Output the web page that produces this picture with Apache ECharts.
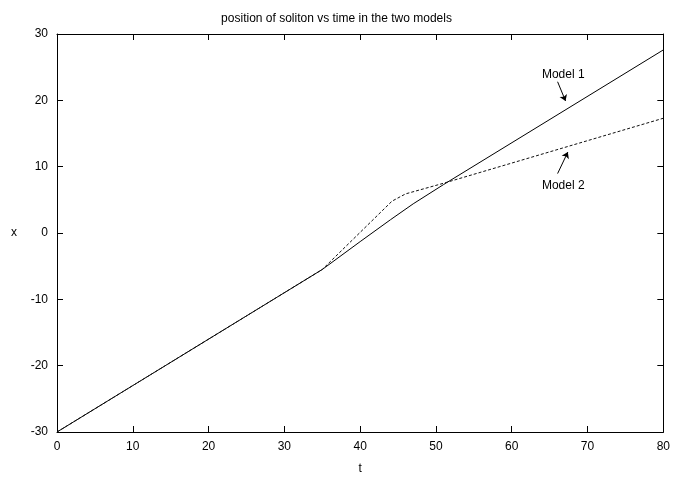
<!DOCTYPE html>
<html>
<head>
<meta charset="utf-8">
<script src="https://cdn.jsdelivr.net/npm/echarts@6/dist/echarts.min.js"></script>
<style>
  html, body { margin: 0; padding: 0; background: #fff; }
  #chart { width: 673px; height: 480px; }
</style>
</head>
<body>
<div id="chart"></div>
<script>
// position of the soliton
const model1T = [0, 35, 40, 44, 47, 51, 80]
const model1X = [-30, -5.5, -1.3, 2.0, 4.4, 7.3, 27.6]
const model2T = [0, 35, 44.2, 46, 51, 80]
const model2X = [-30, -5.5, 4.8, 5.9, 7.5, 17.3]

const xTicks = [0, 10, 20, 30, 40, 50, 60, 70, 80]
const yTicks = [-30, -20, -10, 0, 10, 20, 30]

// annotation: label spot, arrow start, arrow tip (data coords)
const labelNames = ['Model 1', 'Model 2']
const labelAt = [[66.8, 23.9], [66.8, 7.2]]
const arrowFrom = [[66.05, 22.8], [66.05, 8.96]]
const arrowTo = [[67.1, 19.9], [67.4, 12.2]]

const font = { fontFamily: 'Liberation Sans, Arial, sans-serif', fontSize: 12, color: '#000' }
const pair = (ts, xs) => ts.map((t, i) => [t, xs[i]])

const tickStyle = { show: true, inside: true, length: 6, lineStyle: { color: '#000', width: 1 } }
const lineAxis = { show: true, onZero: false, lineStyle: { color: '#000', width: 1 } }

const arrowLine = (i) => ({
  silent: true,
  symbol: ['none', 'arrow'],
  symbolSize: 6,
  lineStyle: { color: '#000', width: 1, type: 'solid' },
  label: { show: false },
  data: [[{ coord: arrowFrom[i] }, { coord: arrowTo[i] }]]
})
const annot = (i) => ({
  symbol: 'circle', symbolSize: 0,
  label: { show: true, position: 'inside', formatter: labelNames[i], ...font },
  data: [{ coord: labelAt[i] }]
})

const chart = echarts.init(document.getElementById('chart'), null, { renderer: 'canvas' })

chart.setOption({
  animation: false,
  backgroundColor: '#fff',
  title: {
    text: 'position of soliton vs time in the two models',
    left: 'center',
    top: 8,
    textStyle: { ...font, fontWeight: 'normal' }
  },
  grid: { left: 57, right: 8, top: 34, bottom: 43, containLabel: false },
  xAxis: [
    {
      type: 'value', min: xTicks[0], max: xTicks[xTicks.length - 1], interval: 10,
      position: 'bottom',
      name: 't', nameLocation: 'middle', nameGap: 31, nameTextStyle: font,
      axisLine: lineAxis, axisTick: tickStyle, splitLine: { show: false },
      axisLabel: { ...font, margin: 9 }
    },
    {
      type: 'value', min: xTicks[0], max: xTicks[xTicks.length - 1], interval: 10,
      position: 'top',
      axisLine: lineAxis, axisTick: tickStyle, splitLine: { show: false },
      axisLabel: { show: false }
    }
  ],
  yAxis: [
    {
      type: 'value', min: yTicks[0], max: yTicks[yTicks.length - 1], interval: 10,
      position: 'left',
      name: 'x', nameLocation: 'middle', nameGap: 40, nameRotate: 0, nameTextStyle: font,
      axisLine: lineAxis, axisTick: tickStyle, splitLine: { show: false },
      axisLabel: { ...font, margin: 9 }
    },
    {
      type: 'value', min: yTicks[0], max: yTicks[yTicks.length - 1], interval: 10,
      position: 'right',
      axisLine: lineAxis, axisTick: tickStyle, splitLine: { show: false },
      axisLabel: { show: false }
    }
  ],
  series: [
    {
      name: 'Model 1',
      type: 'line',
      data: pair(model1T, model1X),
      showSymbol: false,
      lineStyle: { color: '#000', width: 1 },
      markLine: arrowLine(0),
      markPoint: annot(0)
    },
    {
      name: 'Model 2',
      type: 'line',
      data: pair(model2T, model2X),
      showSymbol: false,
      lineStyle: { color: '#111', width: 1, type: [3, 2] },
      markLine: arrowLine(1),
      markPoint: annot(1)
    }
  ]
})
</script>
</body>
</html>
